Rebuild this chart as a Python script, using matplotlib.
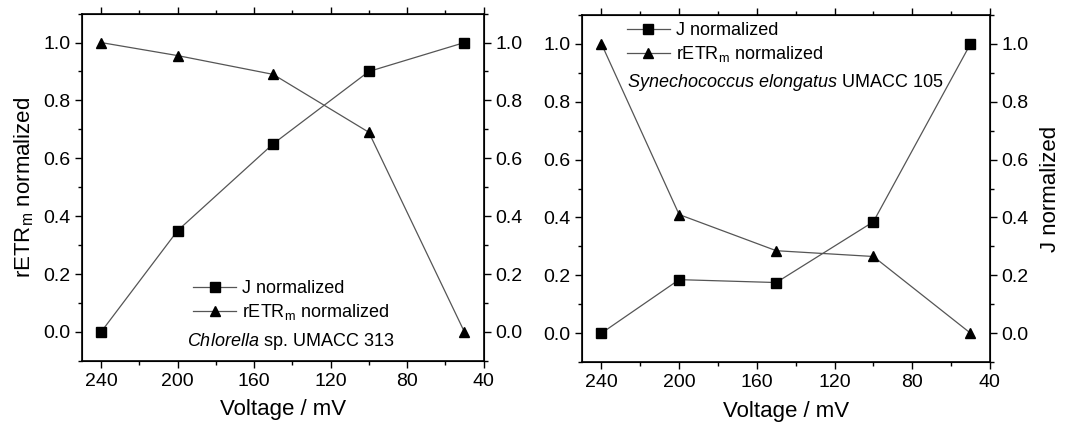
import numpy as np
import matplotlib
matplotlib.use("Agg")
import matplotlib.pyplot as plt
from matplotlib.ticker import MultipleLocator

plt.rcParams['font.family'] = ['Liberation Sans', 'DejaVu Sans']
plt.rcParams['mathtext.fontset'] = 'custom'
plt.rcParams['mathtext.rm'] = 'Liberation Sans'
plt.rcParams['mathtext.it'] = 'Liberation Sans:italic'

# 数据
voltage = [240, 200, 150, 100, 50]
j_chlorella = [0.0, 0.35, 0.65, 0.90, 1.0]
retr_chlorella = [1.0, 0.955, 0.89, 0.69, 0.0]
j_synecho = [0.0, 0.185, 0.175, 0.385, 1.0]
retr_synecho = [1.0, 0.41, 0.285, 0.265, 0.0]

xticks = [240, 200, 160, 120, 80, 40]
yticks = [0.0, 0.2, 0.4, 0.6, 0.8, 1.0]

line_col = '#555555'
fig = plt.figure(figsize=(10.65, 4.26), dpi=100)
ax1 = fig.add_axes([0.077, 0.153, 0.377, 0.815])
ax2 = fig.add_axes([0.5465, 0.150, 0.383, 0.815])


def style(ax):
    ax.set_xlim(250, 40)
    ax.set_ylim(-0.1, 1.1)
    ax.set_xticks(xticks)
    ax.set_yticks(yticks)
    ax.xaxis.set_minor_locator(MultipleLocator(20))
    ax.yaxis.set_minor_locator(MultipleLocator(0.1))
    ax.tick_params(which='both', direction='out', top=True, labelsize=14, width=1)
    ax.tick_params(which='major', length=5)
    ax.tick_params(which='minor', length=3)
    ax.set_xlabel('Voltage / mV', fontsize=16, labelpad=7)
    for s in ax.spines.values():
        s.set_linewidth(1.2)
    tw = ax.twinx()
    tw.set_ylim(-0.1, 1.1)
    tw.set_yticks(yticks)
    tw.yaxis.set_minor_locator(MultipleLocator(0.1))
    tw.tick_params(which='both', direction='out', labelsize=14, width=1)
    tw.tick_params(which='major', length=5)
    tw.tick_params(which='minor', length=3)
    tw.yaxis.set_major_formatter(plt.FormatStrFormatter('%.1f'))
    ax.yaxis.set_major_formatter(plt.FormatStrFormatter('%.1f'))
    return tw


def draw(ax, j, r):
    ax.plot(voltage, j, '-s', color=line_col, lw=0.9, ms=6.5, mfc='black', mec='black',
            label='J normalized')
    ax.plot(voltage, r, '-^', color=line_col, lw=0.9, ms=7.5, mfc='black', mec='black',
            label='rETR$_{\\rm m}$ normalized')


# 左图 Chlorella
style(ax1)
draw(ax1, j_chlorella, retr_chlorella)
ax1.set_ylabel('rETR$_{\\rm m}$ normalized', fontsize=16, labelpad=5)
ax1.legend(loc='lower center', bbox_to_anchor=(0.52, 0.065), frameon=False, fontsize=13,
           handlelength=2.4, labelspacing=0.25, handletextpad=0.3)
ax1.text(0.52, 0.025, '$\\it{Chlorella}$ sp. UMACC 313', transform=ax1.transAxes,
         ha='center', va='bottom', fontsize=13)

# 右图 Synechococcus
tw2 = style(ax2)
draw(ax2, j_synecho, retr_synecho)
tw2.set_ylabel('J normalized', fontsize=16, labelpad=8)
ax2.legend(loc='upper left', bbox_to_anchor=(0.07, 1.025), frameon=False, fontsize=13,
           handlelength=2.4, labelspacing=0.25, handletextpad=0.3)
ax2.text(0.11, 0.775, '$\\it{Synechococcus\\ elongatus}$ UMACC 105', transform=ax2.transAxes,
         ha='left', va='bottom', fontsize=13)

fig.savefig('out.png', dpi=100)
